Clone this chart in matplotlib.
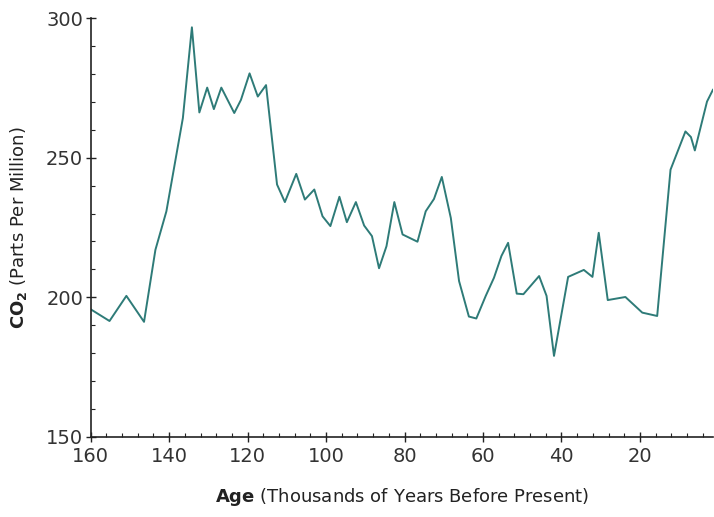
import numpy as np
import matplotlib.pyplot as plt
from matplotlib.ticker import MultipleLocator

# Age (thousands of years before present) and CO2 (ppm)
age = [160, 155.2, 150.9, 146.4, 143.5, 140.7, 136.5, 134.2, 132.3, 130.3,
       128.6, 126.7, 123.4, 121.7, 119.5, 117.4, 115.3, 112.5, 110.5, 107.6,
       105.4, 103, 100.9, 98.9, 96.6, 94.7, 92.4, 90.3, 88.3, 86.5,
       84.6, 82.6, 80.5, 76.7, 74.6, 72.5, 70.5, 68.2, 66.1, 63.6,
       61.7, 59.3, 57.2, 55.3, 53.6, 51.4, 49.7, 45.7, 43.8, 41.9,
       38.3, 34.3, 32.1, 30.5, 28.2, 23.7, 19.4, 15.6, 12.2, 8.4,
       7.0, 6.0, 2.9, 1.4]
co2 = [195.7, 191.5, 200.5, 191.2, 217, 230.8, 264.2, 296.7, 266.2, 275.1,
       267.4, 275.1, 266, 270.7, 280.2, 271.9, 276, 240.4, 234.1, 244.2,
       235, 238.6, 229, 225.5, 236, 226.9, 234.1, 225.7, 221.9, 210.4,
       218.3, 234.1, 222.5, 219.9, 230.8, 235.2, 243.1, 228.4, 205.8, 193.1,
       192.4, 200.5, 207, 214.8, 219.5, 201.3, 201.1, 207.6, 200.5, 179,
       207.3, 209.8, 207.3, 223.1, 199, 200.1, 194.5, 193.3, 245.7, 259.4,
       257.4, 252.6, 270.1, 274.3]

xticks = [160, 140, 120, 100, 80, 60, 40, 20]
yticks = [150, 200, 250, 300]

fig = plt.figure(figsize=(7.14, 5.17), dpi=100)
ax = fig.add_axes([0.127, 0.155, 0.872, 0.81])

ax.plot(age, co2, color='#2e7b78', lw=1.4)

ax.set_xlim(160, 1.3)
ax.set_ylim(150, 300)
ax.set_xticks(xticks)
ax.set_yticks(yticks)
ax.xaxis.set_minor_locator(MultipleLocator(4))
ax.yaxis.set_minor_locator(MultipleLocator(10))

for s in ['top', 'right']:
    ax.spines[s].set_visible(False)
for s in ['left', 'bottom']:
    ax.spines[s].set_linewidth(1.2)
    ax.spines[s].set_color('#222222')

ax.tick_params(which='major', direction='inout', length=7, width=1, labelsize=14,
               labelcolor='#333333', color='#222222')
ax.tick_params(which='minor', direction='in', length=3, width=0.8, color='#222222')
ax.tick_params(axis='x', pad=4)
ax.tick_params(axis='y', pad=2)

ax.set_xlabel(r'$\mathbf{Age}$ (Thousands of Years Before Present)', fontsize=13,
              labelpad=14, color='#222222')
ax.set_ylabel(r'$\mathbf{CO_2}$ (Parts Per Million)', fontsize=13,
              labelpad=12, color='#222222')

fig.savefig('out.png', dpi=100)
